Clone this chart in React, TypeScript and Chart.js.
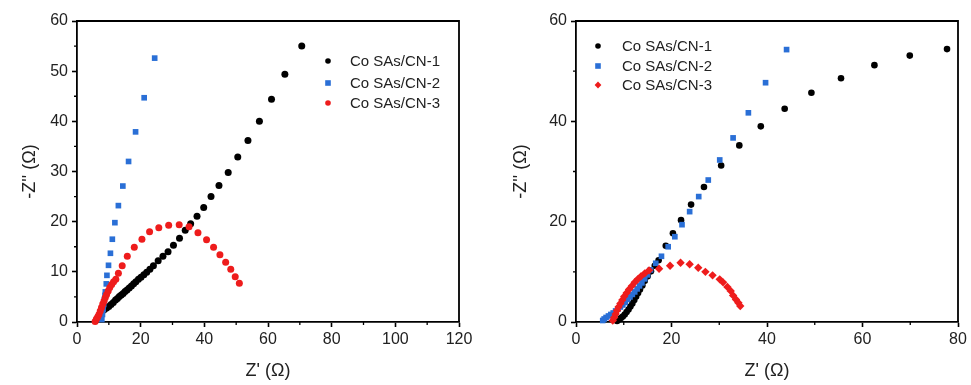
import React, { useEffect, useRef } from "react";
import { Chart, registerables } from "chart.js";

Chart.register(...registerables);

type Pt = [number, number];

const SERIES_NAMES = ["Co SAs/CN-1", "Co SAs/CN-2", "Co SAs/CN-3"];
const COLORS = ["#000000", "#2a6fd6", "#ee1c1c"];
const X_TITLE = "Z' (Ω)";
const Y_TITLE = "-Z'' (Ω)";

// Left panel
const leftCN1: Pt[] = [
  [6.8, 1.1], [7.3, 1.6], [7.9, 2.1], [8.6, 2.5], [9.3, 2.8], [10.0, 3.1], [10.7, 3.5],
  [11.4, 3.9], [12.1, 4.4], [12.7, 4.7], [13.3, 5.1], [13.9, 5.4], [14.5, 5.7], [15.1, 6.1],
  [15.7, 6.4], [16.4, 6.8], [17.1, 7.2], [17.8, 7.6], [18.5, 8.0], [19.3, 8.5], [20.1, 8.9],
  [21.0, 9.4], [21.9, 9.9], [22.9, 10.5], [24.0, 11.2], [25.5, 12.2], [27.0, 13.1], [28.6, 14.0],
  [30.3, 15.3], [32.2, 16.7], [34.0, 18.3], [35.7, 19.6], [37.7, 21.1], [39.8, 22.8], [42.1, 25.0],
  [44.6, 27.2], [47.5, 29.8], [50.5, 32.9], [53.7, 36.2], [57.3, 40.0], [61.1, 44.4], [65.3, 49.4],
  [70.6, 55.0],
];
const leftCN2: Pt[] = [
  [7.8, 0.5], [8.0, 1.5], [8.2, 2.5], [8.4, 3.5], [8.6, 4.5], [8.8, 5.3], [8.9, 6.0], [9.2, 7.6],
  [9.4, 9.3], [9.9, 11.3], [10.5, 13.7], [11.1, 16.5], [11.9, 19.8], [13.0, 23.2], [14.4, 27.1],
  [16.2, 32.0], [18.4, 37.9], [21.1, 44.7], [24.4, 52.6],
];
const leftCN3: Pt[] = [
  [5.7, 0.1], [6.1, 0.6], [6.5, 1.0], [6.9, 1.5], [7.3, 2.2], [7.7, 2.9], [8.1, 3.6], [8.5, 4.2],
  [8.9, 4.9], [9.3, 5.5], [9.8, 6.2], [10.3, 6.9], [10.9, 7.5], [11.5, 8.0], [12.2, 8.5],
  [13.0, 9.7], [14.2, 11.2], [15.8, 13.1], [18.0, 14.9], [20.4, 16.5], [22.8, 18.0], [25.7, 18.8],
  [28.8, 19.3], [32.1, 19.4], [35.2, 19.0], [38.0, 17.8], [40.7, 16.4], [42.9, 14.9], [44.9, 13.4],
  [46.7, 11.9], [48.3, 10.5], [49.7, 9.0], [51.0, 7.7],
];

// Right panel
const rightCN1: Pt[] = [
  [8.6, 0.2], [9.0, 0.5], [9.4, 0.8], [9.8, 1.1], [10.2, 1.5], [10.6, 2.0], [11.0, 2.5], [11.4, 3.1],
  [11.8, 3.7], [12.2, 4.4], [12.6, 5.1], [13.0, 5.8], [13.4, 6.5], [13.9, 7.3], [14.4, 8.2],
  [15.0, 9.1], [15.7, 10.1], [16.5, 11.2], [17.3, 12.3], [18.8, 15.2], [20.3, 17.7], [22.0, 20.3],
  [24.1, 23.4], [26.8, 26.9], [30.4, 31.2], [34.2, 35.2], [38.7, 39.0], [43.7, 42.5], [49.3, 45.7],
  [55.5, 48.6], [62.5, 51.2], [69.9, 53.1], [77.7, 54.4],
];
const rightCN2: Pt[] = [
  [5.6, 0.3], [5.9, 0.6], [6.3, 0.9], [6.8, 1.2], [7.3, 1.5], [7.8, 1.8], [8.3, 2.2], [8.8, 2.6],
  [9.3, 3.0], [9.8, 3.4], [10.3, 3.9], [10.8, 4.5], [11.3, 5.0], [11.8, 5.5], [12.3, 6.0],
  [12.8, 6.6], [13.3, 7.2], [13.8, 7.8], [14.4, 8.6], [15.0, 9.4], [15.6, 10.4], [16.7, 11.7],
  [17.9, 13.1], [19.3, 15.0], [20.7, 17.0], [22.2, 19.4], [23.8, 22.0], [25.7, 25.0], [27.7, 28.3],
  [30.1, 32.3], [32.9, 36.7], [36.1, 41.7], [39.7, 47.7], [44.1, 54.3],
];
const rightCN3: Pt[] = [
  [7.7, 0.3], [8.0, 0.9], [8.3, 1.6], [8.6, 2.3], [8.9, 3.0], [9.3, 3.7], [9.7, 4.4], [10.1, 5.1],
  [10.6, 5.8], [11.1, 6.5], [11.7, 7.2], [12.3, 7.9], [12.9, 8.5], [13.6, 9.1], [14.4, 9.7],
  [15.3, 10.3], [17.4, 10.6], [19.7, 11.2], [21.9, 11.8], [23.8, 11.5], [25.6, 10.8], [27.1, 10.0],
  [28.6, 9.3], [30.1, 8.5], [30.8, 7.9], [31.7, 7.0], [32.4, 6.2], [32.9, 5.3], [33.5, 4.5],
  [34.0, 3.85], [34.4, 3.2],
];

const FONT = "Arial, 'Liberation Sans', sans-serif";
const TEXT = "#222222";

interface PanelCfg {
  series: Pt[][];
  styles: string[];
  radii: number[];
  legendRadii: number[];
  xMax: number;
  xStep: number;
  yMax: number;
  yStep: number;
  padTop: number;
  padRight: number;
  yWidth: number;
  xHeight: number;
  yTitlePad: number;
  legendMarkerDx: number;
  legendTextDx: number;
  legendRowsDy: number[];
}

const leftCfg: PanelCfg = {
  series: [leftCN1, leftCN2, leftCN3],
  styles: ["circle", "rect", "circle"],
  radii: [3.5, 4.0, 3.5],
  legendRadii: [2.8, 2.8, 2.8],
  xMax: 120,
  xStep: 20,
  yMax: 60,
  yStep: 10,
  padTop: 21,
  padRight: 26,
  yWidth: 77,
  xHeight: 63,
  yTitlePad: 19,
  legendMarkerDx: 251,
  legendTextDx: 273,
  legendRowsDy: [40, 62, 82],
};

const rightCfg: PanelCfg = {
  series: [rightCN1, rightCN2, rightCN3],
  styles: ["circle", "rect", "rectRot"],
  radii: [3.3, 4.0, 4.2],
  legendRadii: [2.8, 2.8, 3.4],
  xMax: 80,
  xStep: 20,
  yMax: 60,
  yStep: 20,
  padTop: 21,
  padRight: 13,
  yWidth: 91,
  xHeight: 63,
  yTitlePad: 25,
  legendMarkerDx: 22,
  legendTextDx: 46,
  legendRowsDy: [25, 45, 64],
};

function drawMarker(ctx: CanvasRenderingContext2D, style: string, x: number, y: number, r: number) {
  ctx.beginPath();
  if (style === "circle") {
    ctx.arc(x, y, r, 0, Math.PI * 2);
  } else if (style === "rect") {
    ctx.rect(x - r, y - r, 2 * r, 2 * r);
  } else {
    ctx.moveTo(x, y - r);
    ctx.lineTo(x + r, y);
    ctx.lineTo(x, y + r);
    ctx.lineTo(x - r, y);
    ctx.closePath();
  }
  ctx.fill();
}

function makePlugin(cfg: PanelCfg) {
  return {
    id: "frameLegend",
    afterDraw(chart: any) {
      const ctx: CanvasRenderingContext2D = chart.ctx;
      const a = chart.chartArea;
      const xs = chart.scales.x;
      const ys = chart.scales.y;
      ctx.save();
      ctx.strokeStyle = "#000";
      ctx.lineWidth = 1.8;
      ctx.beginPath();
      ctx.moveTo(a.left, a.top);
      ctx.lineTo(a.right, a.top);
      ctx.lineTo(a.right, a.bottom);
      ctx.stroke();
      ctx.lineWidth = 1.3;
      ctx.beginPath();
      for (let v = cfg.xStep / 2; v < cfg.xMax; v += cfg.xStep) {
        const px = xs.getPixelForValue(v);
        ctx.moveTo(px, a.bottom);
        ctx.lineTo(px, a.bottom + 3);
      }
      for (let v = cfg.yStep / 2; v < cfg.yMax; v += cfg.yStep) {
        const py = ys.getPixelForValue(v);
        ctx.moveTo(a.left, py);
        ctx.lineTo(a.left - 3, py);
      }
      ctx.stroke();
      ctx.font = `15px ${FONT}`;
      ctx.textBaseline = "middle";
      ctx.textAlign = "left";
      SERIES_NAMES.forEach((name, i) => {
        const y = a.top + cfg.legendRowsDy[i];
        ctx.fillStyle = COLORS[i];
        drawMarker(ctx, cfg.styles[i], a.left + cfg.legendMarkerDx, y, cfg.legendRadii[i]);
        ctx.fillStyle = TEXT;
        ctx.fillText(name, a.left + cfg.legendTextDx, y + 0.5);
      });
      ctx.restore();
    },
  };
}

function makeChart(canvas: HTMLCanvasElement, cfg: PanelCfg) {
  const tickFont = { family: FONT, size: 16 };
  const titleFont = { family: FONT, size: 18 };
  return new Chart(canvas, {
    type: "scatter",
    data: {
      datasets: cfg.series.map((d, i) => ({
        label: SERIES_NAMES[i],
        data: d.map(([x, y]) => ({ x, y })),
        pointStyle: cfg.styles[i] as any,
        pointRadius: cfg.radii[i],
        backgroundColor: COLORS[i],
        borderColor: COLORS[i],
        pointBorderWidth: 0,
        order: 2 - i,
        clip: false as any,
        showLine: false,
      })),
    },
    options: {
      responsive: false,
      animation: false,
      events: [],
      layout: { padding: { left: 0, top: cfg.padTop, right: cfg.padRight, bottom: 0 } },
      plugins: { legend: { display: false }, tooltip: { enabled: false } },
      scales: {
        x: {
          type: "linear",
          min: 0,
          max: cfg.xMax,
          ticks: { stepSize: cfg.xStep, font: tickFont, color: TEXT, padding: 3, maxRotation: 0 },
          grid: { drawOnChartArea: false, tickLength: 5, tickWidth: 1.6, tickColor: "#000" },
          border: { color: "#000", width: 1.8 },
          title: { display: true, text: X_TITLE, font: titleFont, color: TEXT, padding: { top: 0, bottom: 3 } },
          afterFit: (s: any) => {
            s.height = cfg.xHeight;
          },
        },
        y: {
          type: "linear",
          min: 0,
          max: cfg.yMax,
          ticks: { stepSize: cfg.yStep, font: tickFont, color: TEXT, padding: 4 },
          grid: { drawOnChartArea: false, tickLength: 5, tickWidth: 1.6, tickColor: "#000" },
          border: { color: "#000", width: 1.8 },
          title: { display: true, text: Y_TITLE, font: titleFont, color: TEXT, padding: { top: cfg.yTitlePad, bottom: 0 } },
          afterFit: (s: any) => {
            s.width = cfg.yWidth;
          },
        },
      },
    } as any,
    plugins: [makePlugin(cfg)],
  });
}

export default function App() {
  const leftRef = useRef<HTMLCanvasElement>(null);
  const rightRef = useRef<HTMLCanvasElement>(null);
  useEffect(() => {
    const a = makeChart(leftRef.current!, leftCfg);
    const b = makeChart(rightRef.current!, rightCfg);
    return () => {
      a.destroy();
      b.destroy();
    };
  }, []);
  return (
    <div style={{ position: "absolute", left: 0, top: 0, width: 971, height: 385, background: "#fff" }}>
      <canvas
        ref={leftRef}
        width={485}
        height={385}
        style={{ position: "absolute", left: 0, top: 0, width: 485, height: 385 }}
      />
      <canvas
        ref={rightRef}
        width={486}
        height={385}
        style={{ position: "absolute", left: 485, top: 0, width: 486, height: 385 }}
      />
    </div>
  );
}
